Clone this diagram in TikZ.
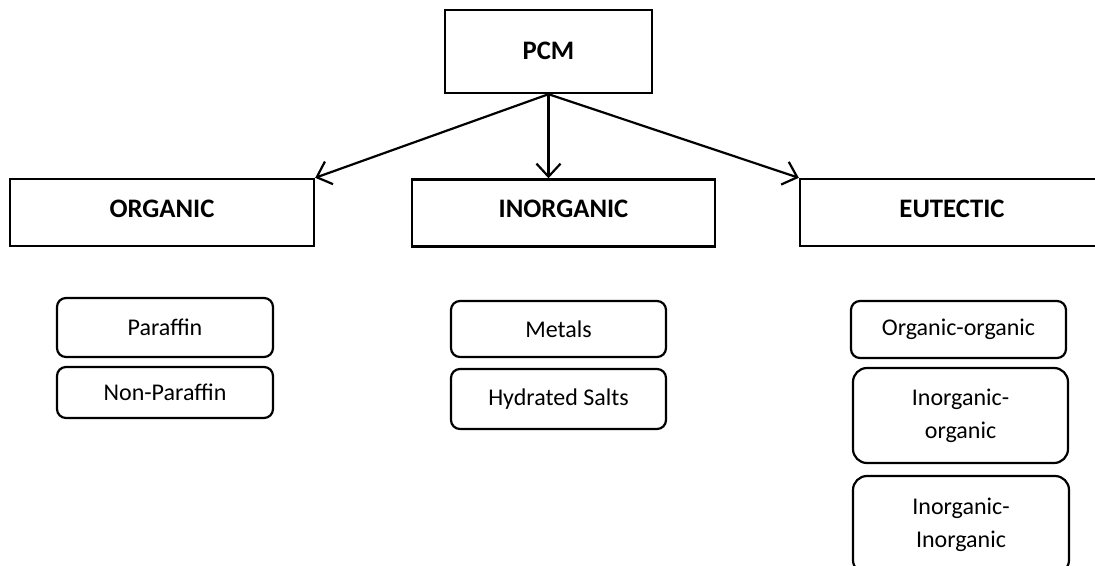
\documentclass[tikz,border=0pt]{standalone}
\usepackage{fontspec}
\setmainfont{Carlito}
\usetikzlibrary{arrows.meta}
\tikzset{
  headbox/.style={draw, line width=2.4pt, rectangle, inner sep=0pt, minimum height=67pt,
    font=\fontsize{26.7}{32}\selectfont\bfseries, text depth=8pt},
  subbox/.style={draw, line width=2.2pt, rectangle, rounded corners=9pt, inner sep=0pt,
    minimum width=215pt, align=center, font=\fontsize{24}{33}\selectfont},
  conn/.style={line width=2.2pt, -{Straight Barb[length=13pt,width=24pt,line width=2.2pt]}}
}
\begin{document}
\begin{tikzpicture}[x=1pt,y=-1pt]
\path[use as bounding box, clip] (0,0) rectangle (1095,565);
\fill[white] (0,0) rectangle (1095,565);
% top
\node[draw, line width=2.4pt, rectangle, inner sep=0pt, minimum width=207pt, minimum height=83pt,
  label={[anchor=center, yshift=-42pt, font=\fontsize{26.7}{32}\selectfont\bfseries]north:PCM}] (pcm) at (548.5,51.5) {};
% categories
\node[headbox, minimum width=304pt] (org) at (162,212.5) {ORGANIC};
\node[headbox, minimum width=303pt] (inorg) at (563.5,213) {INORGANIC};
\node[headbox, minimum width=304pt] (eut) at (952,212.5) {EUTECTIC};
% sub items
\node[subbox, minimum width=216pt, minimum height=59pt] (par) at (165,327.5) {Paraffin};
\node[subbox, minimum width=216pt, minimum height=51pt] (npar) at (165,392.5) {Non-Paraffin};
\node[subbox, minimum height=56pt] (met) at (558.5,329) {Metals};
\node[subbox, minimum height=60pt] (hyd) at (558.5,399) {Hydrated Salts};
\node[subbox, minimum height=57pt] (oo) at (958.5,329.5) {Organic-organic};
\node[subbox, rounded corners=14pt, minimum height=95pt] (io) at (960.5,415.5) {Inorganic-\\organic};
\node[subbox, rounded corners=14pt, minimum width=216pt, minimum height=98pt] (ii) at (961,525) {Inorganic-\\Inorganic};
% connectors
\draw[conn] (pcm.south) -- (org.north east);
\draw[conn] (pcm.south) -- (pcm.south |- inorg.north);
\draw[conn] (pcm.south) -- (eut.north west);
\end{tikzpicture}
\end{document}
